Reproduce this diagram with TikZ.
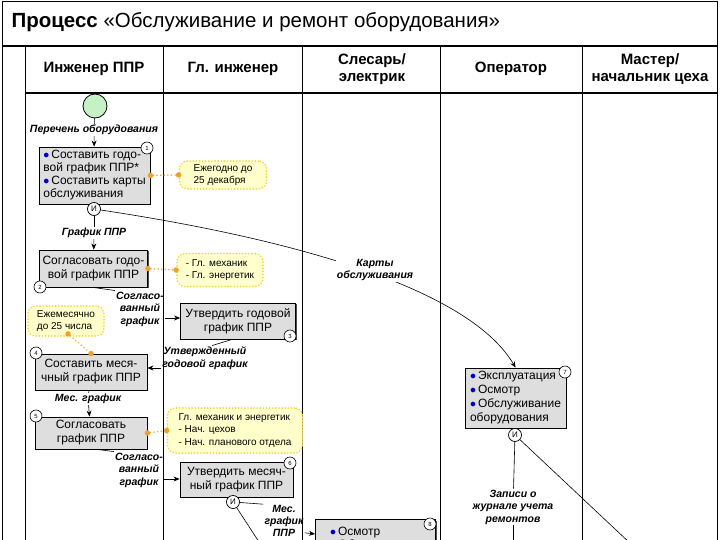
\documentclass[tikz,border=0pt]{standalone}
\usepackage{fontspec}
\setmainfont{Liberation Sans}
\usetikzlibrary{arrows.meta,calc,shadows}
\definecolor{boxgray}{HTML}{DEDEDE}
\definecolor{notefill}{HTML}{FFFFCC}
\definecolor{noteborder}{HTML}{F2D640}
\definecolor{orng}{HTML}{F0A030}
\definecolor{startgreen}{HTML}{C6F0C6}
\definecolor{bulletblue}{HTML}{0000C0}
\newcommand\mybul{{\color{bulletblue}$\bullet$}\,}
\begin{document}
\begin{tikzpicture}[x=1pt,y=-1pt,
 box/.style={draw=black, line width=0.9pt, fill=boxgray, inner sep=1.5pt,
   font=\fontsize{12}{14}\selectfont, align=center,
   drop shadow={shadow xshift=1.3pt, shadow yshift=-1.3pt, fill=black!70, opacity=1}},
 numc/.style={circle, draw=black, fill=white, line width=0.6pt, minimum size=12pt, inner sep=0pt, font=\fontsize{6}{6}\selectfont},
 andc/.style={circle, draw=black, fill=white, line width=0.7pt, minimum size=13pt, inner sep=0pt, font=\fontsize{8}{8}\selectfont},
 lab/.style={font=\fontsize{10.5}{12.5}\selectfont\bfseries\itshape, align=center, inner sep=1pt},
 note/.style={draw=noteborder, line width=1.8pt, line cap=round, dash pattern=on 0.1pt off 3pt,
   rounded corners=8pt, fill=notefill, font=\fontsize{10}{12.5}\selectfont, align=left, inner sep=3pt},
 odot/.style={circle, fill=orng, minimum size=5.5pt, inner sep=0pt},
 oline/.style={draw=orng, line width=1.6pt, line cap=round, dash pattern=on 0.1pt off 3.5pt},
 conn/.style={draw=black, line width=0.6pt},
 arr/.style={conn, -{Stealth[length=6pt,width=5pt]}},
 lane/.style={draw=black, line width=0.9pt},
 hdr/.style={font=\fontsize{15}{17}\selectfont\bfseries, align=center}
]
\useasboundingbox (0,0) rectangle (720,540);
\clip (0,0) rectangle (720,540);
\fill[white] (0,0) rectangle (720,540);

% frame, title and lanes
\draw[lane] (2,1.5) -- (717,1.5);
\draw[lane] (2,1.5) -- (2,540);
\draw[lane] (717,1.5) -- (717,540);
\draw[black, line width=1.4pt] (2,46) -- (717,46);
\draw[black, line width=1.4pt] (25,93) -- (717,93);
\foreach \x in {25,163,302,440,582} \draw[lane] (\x,46) -- (\x,540);
\node[anchor=west, font=\fontsize{20.5}{24}\selectfont] (title) at (8,22)
  {\textbf{Процесс} «Обслуживание и ремонт оборудования»};

\node[hdr] (h1) at (94,69) {Инженер ППР};
\node[hdr] (h2) at (233,69) {Гл. инженер};
\node[hdr] (h3) at (372,69) {Слесарь/\\электрик};
\node[hdr] (h4) at (511,69) {Оператор};
\node[hdr] (h5) at (650,69) {Мастер/\\начальник цеха};

% start
\node[circle, draw=black, line width=0.8pt, fill=startgreen, minimum size=24pt, inner sep=0pt] (start) at (95,106) {};
\node[lab] (l0) at (94,130) {Перечень оборудования};

% box 1
\node[box, minimum width=111pt, minimum height=57pt, align=left, font=\fontsize{12}{13}\selectfont] (b1) at (94.5,175.5)
  {\mybul Составить годо-\\вой график ППР*\\\mybul Составить карты\\обслуживания};
\node[numc] (n1) at (147,148) {1};
\node[note, minimum width=87pt, minimum height=28pt] (nt1) at (223,175) {Ежегодно до\\25 декабря};
\node[odot] (o1a) at (b1.east) {};
\node[odot] (o1b) at (nt1.west) {};
\node[andc] (i1) at (94,209) {И};
\node[lab] (lgr) at (94,233) {График ППР};

% box 2
\node[box, minimum width=108pt, minimum height=37pt] (b2) at (93.5,268.5) {Согласовать годо-\\вой график ППР};
\node[numc] (n2) at (40,287) {2};
\node[note, minimum width=86pt, minimum height=33pt] (nt2) at (220,270) {- Гл. механик\\- Гл. энергетик};
\node[odot] (o2a) at (b2.east) {};
\node[odot] (o2b) at (nt2.west) {};
\node[lab] (ls1) at (140,309) {Согласо-\\ванный\\график};

% box 3
\node[box, minimum width=115pt, minimum height=36pt] (b3) at (238,321) {Утвердить годовой\\график ППР};
\node[numc] (n3) at (290,336) {3};
\node[lab] (lut) at (205,358) {Утвержденный\\годовой график};

% monthly note
\node[note, minimum width=76pt, minimum height=30pt] (ntm) at (66,321) {Ежемесячно\\до 25 числа};
\node[odot] (om1) at ($(ntm.south)+(2,-3)$) {};

% box 4
\node[box, minimum width=112pt, minimum height=36pt] (b4) at (91,372) {Составить меся-\\чный график ППР};
\node[numc] (n4) at (36,353) {4};
\node[odot] (om2) at (b4.north) {};
\node[lab] (lmes) at (88,399) {Мес. график};

% box 5
\node[box, minimum width=112pt, minimum height=32pt] (b5) at (91,433) {Согласовать\\график ППР};
\node[numc] (n5) at (36,416) {5};
\node[note, minimum width=135pt, minimum height=45pt] (nt5) at (235,430.5)
  {Гл. механик и энергетик\\- Нач. цехов\\- Нач. планового отдела};
\node[odot] (o5a) at (b5.east) {};
\node[odot] (o5b) at (nt5.west) {};
\node[lab] (ls2) at (139,470) {Согласо-\\ванный\\график};

% box 6
\node[box, minimum width=113pt, minimum height=35pt] (b6) at (236.5,479.5) {Утвердить месяч-\\ный график ППР};
\node[numc] (n6) at (290,463) {6};
\node[andc] (i6) at (233,502) {И};
\node[lab, font=\fontsize{10.5}{12}\selectfont\bfseries\itshape] (lmg) at (284,521) {Мес.\\график\\ППР};

% box 8
\node[box, minimum width=120pt, minimum height=40pt, anchor=north west, align=left,
  font=\fontsize{12}{13}\selectfont, inner ysep=1pt] (b8) at (315,519)
  {\mybul Осмотр\\\mybul Обслуживание};
\node[numc] (n8) at (430,524) {8};

% box 7
\node[box, minimum width=101pt, minimum height=60pt, align=left] (b7) at (515.5,398)
  {\mybul Эксплуатация\\\mybul Осмотр\\\mybul Обслуживание\\оборудования};
\node[numc] (n7) at (565,372) {7};
\node[andc] (i7) at (515,435) {И};
\node[lab] (lzap) at (513,507) {Записи о\\журнале учета\\ремонтов};
\coordinate (zend) at (513,545);
\coordinate (i7end) at (632,545);
\coordinate (i6end) at (261,545);

% connectors
\draw[conn] (start) -- (l0);
\draw[arr] (l0) -- (b1);
\draw[conn] (i1) -- (lgr);
\draw[arr] (lgr) -- (b2);
\draw[conn] (b2.south) -- (ls1.north west);
\draw[arr] ($(ls1.east)+(0,9)$) coordinate (t1) -- (t1 -| b3.west);
\draw[conn] ($(b3.south)+(-6,0)$) -- (lut.60);
\draw[arr] ($(lut.west)+(0,10)$) coordinate (t2) -- (t2 -| b4.east);
\draw[conn] (b4) -- (lmes);
\draw[arr] (lmes) -- (b5);
\draw[conn] ($(b5.south)+(6,0)$) -- (ls2.north west);
\draw[arr] ($(ls2.east)+(0,9)$) coordinate (t3) -- (t3 -| b6.west);
\draw[conn] (i6) -- (lmg.north west);
\draw[arr] ($(lmg.south east)+(0,-5)$) -- ($(b8.north west)+(0,15)$);
\draw[conn] (i6) -- (i6end);
\draw[conn] (i7) -- (lzap);
\draw[conn] (lzap) -- (zend);
\draw[conn] (i7) -- (i7end);
\draw[arr] (i1) .. controls (300,240) and (470,290) .. (b7.north);
\node[lab, fill=white] (lkarty) at (375,270) {Карты\\обслуживания};

% orange dotted links
\draw[oline] (o1a) -- (o1b);
\draw[oline] (o2a) -- (o2b);
\draw[oline] (om1) -- (om2);
\draw[oline] (o5a) -- (o5b);
\end{tikzpicture}
\end{document}
